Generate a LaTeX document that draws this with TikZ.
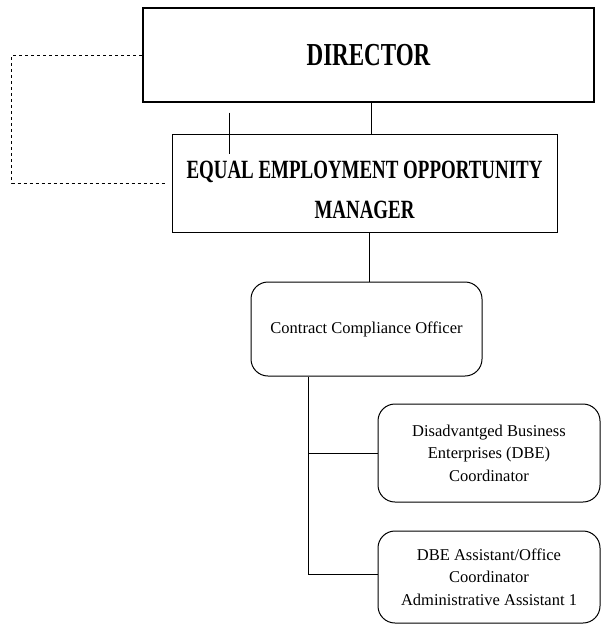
\documentclass[tikz,border=0pt]{standalone}
\usepackage{fontspec}
\setmainfont{Liberation Serif}
\newfontfamily\narrowserif[FakeStretch=0.72]{Liberation Serif}
\begin{document}
\begin{tikzpicture}[x=1pt, y=1pt,
  box/.style = {draw = black, line width = 1pt, align = center, inner sep = 0pt},
  roundbox/.style = {box, rounded corners = 17pt, font = \fontsize{16.5}{22.5}\selectfont},
  headbox/.style = {box, font = \narrowserif\bfseries\fontsize{26}{40}\selectfont},
  headtext/.style = {align = center, inner sep = 0pt, font = \narrowserif\bfseries\fontsize{26.3}{40}\selectfont}]
\useasboundingbox (0,0) rectangle (602,-624);
\node[headbox, line width = 2.7pt, minimum width = 451pt, minimum height = 94pt] (director) at (368.5,-55) {\fontsize{32}{33}\selectfont DIRECTOR};
\node[box, minimum width = 385pt, minimum height = 98pt,
  label = {[headtext, yshift = -7pt]center:EQUAL EMPLOYMENT OPPORTUNITY\\MANAGER}] (eeo) at (364.5,-183) {};
\node[roundbox, minimum width = 231pt, minimum height = 94pt] (cco) at (366.5,-329) {Contract Compliance Officer};
\node[roundbox, minimum width = 222pt, minimum height = 98pt] (dbe) at (489,-453) {Disadvantged Business\\Enterprises (DBE)\\Coordinator};
\node[roundbox, minimum width = 222pt, minimum height = 92pt] (asst) at (489,-577) {DBE Assistant/Office\\Coordinator\\Administrative Assistant 1};
\coordinate (trunk) at ([xshift=58pt]cco.south west);
\coordinate (tick) at ([xshift=58pt]eeo.north west);
\draw[line width = 1pt] ([xshift=2.5pt]director.south) -- ([xshift=6.5pt]eeo.north);
\draw[line width = 1pt] ([xshift=4.5pt]eeo.south) -- ([xshift=2.5pt]cco.north);
\draw[line width = 1pt, dashed] (director.west) -- ++(-130,0) |- ([xshift=-4pt]eeo.west);
\draw[line width = 0.8pt] ([yshift=21pt]tick) -- ([yshift=-20pt]tick);
\draw[line width = 1pt] (trunk) |- ([yshift=3pt]asst.west);
\draw[line width = 1pt] (trunk |- dbe.west) -- (dbe.west);
\end{tikzpicture}
\end{document}
